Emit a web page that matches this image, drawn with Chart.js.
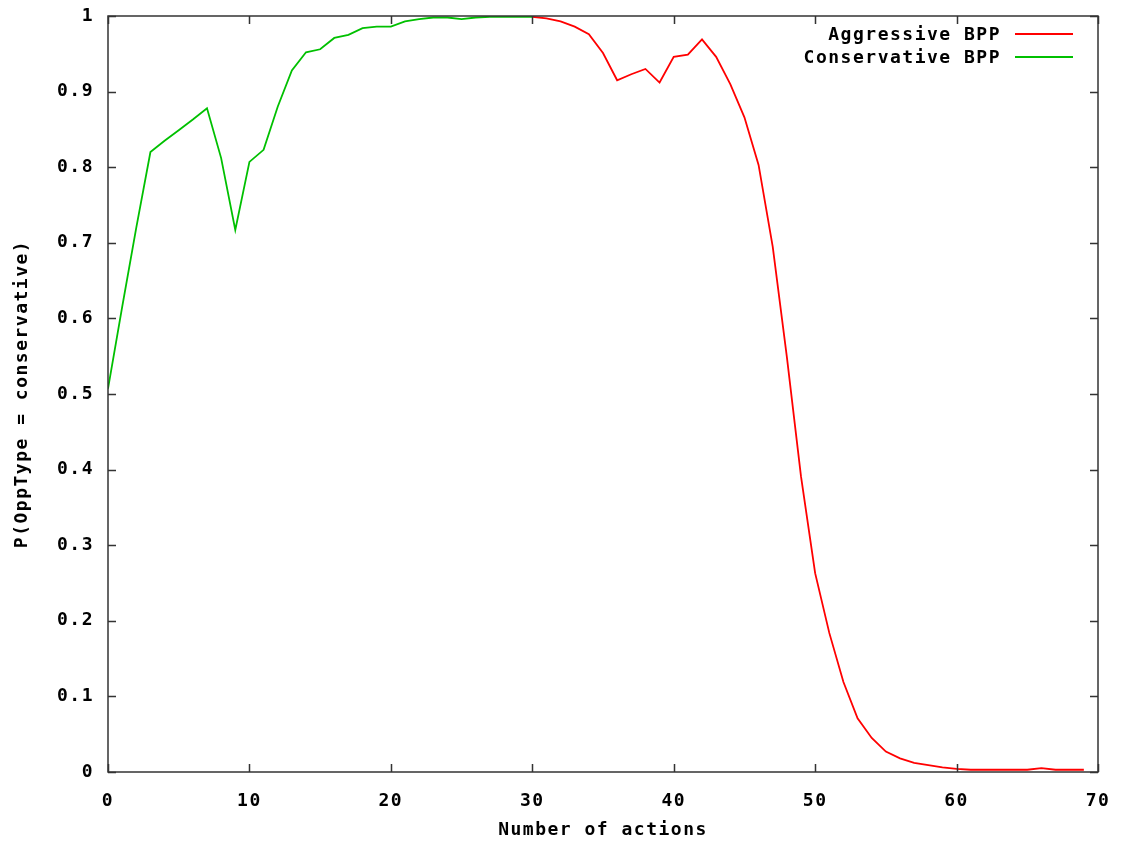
<!DOCTYPE html>
<html>
<head>
<meta charset="utf-8">
<script src="https://cdn.jsdelivr.net/npm/chart.js@4.4.0/dist/chart.umd.min.js"></script>
<style>
  html, body { margin: 0; padding: 0; background: #fff; }
  canvas { display: block; }
</style>
</head>
<body>
<canvas id="myChart" width="1123" height="845"></canvas>
<script>
// x = number of actions
let consActions = [];
for (let i = 0; i <= 30; i++) consActions.push(i);
let aggrActions = [];
for (let i = 30; i <= 69; i++) aggrActions.push(i);

// P(OppType = conservative)
let consValues = [0.507, 0.615, 0.72, 0.82, 0.835, 0.849, 0.863, 0.878, 0.812, 0.717,
	0.807, 0.823, 0.88, 0.928, 0.952, 0.956, 0.971, 0.975, 0.984, 0.986,
	0.986, 0.993, 0.996, 0.998, 0.998, 0.996, 0.998, 0.999, 0.999, 0.999, 0.999];
let aggrValues = [0.999, 0.997, 0.993, 0.986, 0.976, 0.951, 0.915, 0.923, 0.930, 0.912,
	0.946, 0.949, 0.969, 0.946, 0.91, 0.866, 0.803, 0.695, 0.549, 0.391,
	0.263, 0.184, 0.119, 0.071, 0.045, 0.027, 0.018, 0.012, 0.009, 0.006,
	0.004, 0.003, 0.003, 0.003, 0.003, 0.003, 0.005, 0.003, 0.003, 0.003];

let seriesNames = ['Aggressive BPP', 'Conservative BPP'];
let seriesColors = ['#ff0000', '#00c000'];
let xTicks = [0, 10, 20, 30, 40, 50, 60, 70];
let yTicks = [0, 0.1, 0.2, 0.3, 0.4, 0.5, 0.6, 0.7, 0.8, 0.9, 1];

const FONT = 'DejaVu Sans Mono';

function toPoints(xs, ys) {
	return xs.map((x, i) => ({ x: x, y: ys[i] }));
}

// gnuplot style frame: box + inward ticks on all 4 sides + legend
const gnuplotFrame = {
	id: 'gnuplotFrame',
	beforeDraw(chart) {
		chart.ctx.letterSpacing = '1.5px';
	},
	afterDatasetsDraw(chart) {
		const ctx = chart.ctx;
		const a = chart.chartArea;
		const xs = chart.scales.x, ys = chart.scales.y;
		const tl = 8;
		ctx.save();
		ctx.strokeStyle = '#333';
		ctx.lineWidth = 1.5;
		ctx.strokeRect(a.left, a.top, a.right - a.left, a.bottom - a.top);
		ctx.beginPath();
		xTicks.forEach((v) => {
			const px = Math.round(xs.getPixelForValue(v)) + 0.5;
			ctx.moveTo(px, a.bottom); ctx.lineTo(px, a.bottom - tl);
			ctx.moveTo(px, a.top); ctx.lineTo(px, a.top + tl);
		});
		yTicks.forEach((v) => {
			const py = Math.round(ys.getPixelForValue(v)) + 0.5;
			ctx.moveTo(a.left, py); ctx.lineTo(a.left + tl, py);
			ctx.moveTo(a.right, py); ctx.lineTo(a.right - tl, py);
		});
		ctx.stroke();

		// legend, text right aligned then a line sample
		ctx.font = 'bold 18px "' + FONT + '"';
		ctx.textAlign = 'right';
		ctx.textBaseline = 'middle';
		ctx.fillStyle = '#000';
		chart.data.datasets.forEach((ds, i) => {
			const y = 34 + i * 23;
			ctx.fillText(ds.label, 1001, y + 1);
			ctx.strokeStyle = ds.borderColor;
			ctx.lineWidth = 1.8;
			ctx.beginPath();
			ctx.moveTo(1015, y);
			ctx.lineTo(1073, y);
			ctx.stroke();
		});
		ctx.restore();
	},
};

var chartArea = document.getElementById('myChart').getContext('2d');
var myChart = new Chart(chartArea, {
	type: 'line',
	data: {
		datasets: [
			{
				label: seriesNames[0],
				data: toPoints(aggrActions, aggrValues),
				borderColor: seriesColors[0],
				borderWidth: 1.8,
				pointRadius: 0,
				tension: 0,
			},
			{
				label: seriesNames[1],
				data: toPoints(consActions, consValues),
				borderColor: seriesColors[1],
				borderWidth: 1.8,
				pointRadius: 0,
				tension: 0,
			},
		],
	},
	options: {
		responsive: false,
		animation: false,
		layout: { padding: { top: 16, right: 25, left: 0, bottom: 0 } },
		plugins: {
			legend: { display: false },
			tooltip: { enabled: false },
		},
		scales: {
			x: {
				type: 'linear',
				min: 0,
				max: 70,
				afterFit: (s) => {
					s.height = 73;
					s.paddingLeft = 0;
					s.paddingRight = 0;
				},
				afterBuildTicks: (s) => { s.ticks = xTicks.map((v) => ({ value: v })); },
				grid: { display: false, drawTicks: false },
				border: { display: false },
				ticks: {
					padding: 19,
					color: '#000',
					font: { family: FONT, size: 18, weight: 'bold' },
					maxRotation: 0,
				},
				title: {
					display: true,
					text: 'Number of actions',
					color: '#000',
					font: { family: FONT, size: 18, weight: 'bold' },
					padding: { top: 0 },
				},
			},
			y: {
				min: 0,
				max: 1,
				afterFit: (s) => {
					s.width = 108;
					s.paddingTop = 0;
					s.paddingBottom = 0;
				},
				afterBuildTicks: (s) => { s.ticks = yTicks.map((v) => ({ value: v })); },
				grid: { display: false, drawTicks: false },
				border: { display: false },
				ticks: {
					padding: 14,
					color: '#000',
					font: { family: FONT, size: 18, weight: 'bold' },
					callback: (v) => (v === 0 || v === 1 ? String(v) : v.toFixed(1)),
				},
				title: {
					display: true,
					text: 'P(OppType = conservative)',
					color: '#000',
					font: { family: FONT, size: 18, weight: 'bold' },
					padding: { top: 12, bottom: 0 },
				},
			},
		},
	},
	plugins: [gnuplotFrame],
});
</script>
</body>
</html>
